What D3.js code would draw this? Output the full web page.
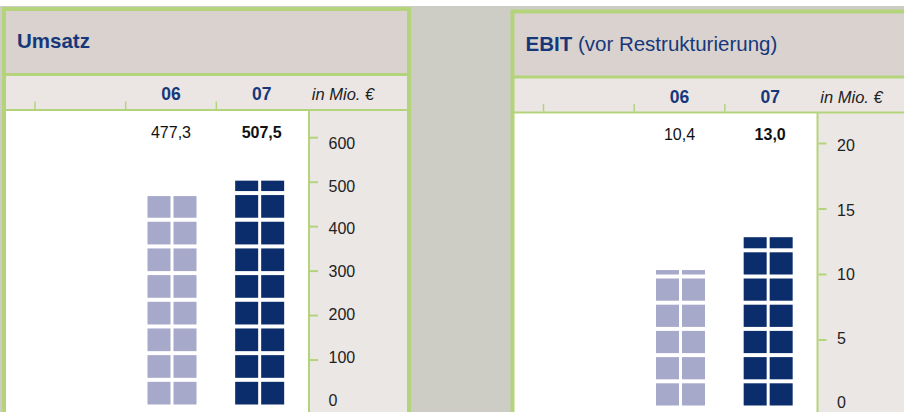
<!DOCTYPE html>
<html>
<head>
<meta charset="utf-8">
<script src="https://cdn.jsdelivr.net/npm/d3@7"></script>
<style>
  body { margin: 0; background: #fff; }
  svg { display: block; font-family: "Liberation Sans", Arial, sans-serif; }
</style>
</head>
<body>
<div class="canvas"></div>
<script>
// data
const slots = ["", "06", "07"];
const years = ["06", "07"];
const umsatz = [477.3, 507.5];
const ebit = [10.4, 13.0];
const umsatzTicks = [0, 100, 200, 300, 400, 500, 600];
const ebitTicks = [0, 5, 10, 15, 20];
const unitLabel = "in Mio. €";

const green = "#b4d47b";
const navy = "#16387a";
const barColors = ["#a6a9ca", "#0c2d6c"];
const fmt = (v) => d3.format(".1f")(v).replace(".", ",");

const dims = { width: 904, height: 412 };
const svg = d3
	.select(".canvas")
	.append("svg")
	.attr("width", dims.width)
	.attr("height", dims.height);

svg.append("rect").attr("width", dims.width).attr("height", dims.height).attr("fill", "#cdccc5");
svg.append("rect").attr("width", dims.width).attr("height", 6).attr("fill", "#fff");

const panels = [
	{ x: 2, y: 7, title: "Umsatz", sub: "", values: umsatz, ticks: umsatzTicks, max: 600, rowValue: 60, range: [397.5, 130.7] },
	{ x: 510.5, y: 9.5, title: "EBIT", sub: " (vor Restrukturierung)", values: ebit, ticks: ebitTicks, max: 20, rowValue: 2, range: [396, 134] },
];

panels.forEach((p) => {
	const g = svg.append("g").attr("transform", `translate(${p.x}, ${p.y})`);

	// frame
	g.append("rect").attr("width", 409).attr("height", 420).attr("fill", green);
	g.append("rect").attr("x", 4).attr("y", 4).attr("width", 401).attr("height", 62).attr("fill", "#d9d2cf");
	g.append("rect").attr("x", 4).attr("y", 69).attr("width", 401).attr("height", 33).attr("fill", "#ebe6e4");
	g.append("rect").attr("x", 4).attr("y", 104).attr("width", 302).attr("height", 320).attr("fill", "#fff");
	g.append("rect").attr("x", 308).attr("y", 104).attr("width", 97).attr("height", 320).attr("fill", "#ebe7e5");

	// title
	const t = g.append("text").attr("x", 15).attr("y", 41).attr("font-size", 20.5).attr("fill", navy);
	t.append("tspan").attr("font-weight", "bold").text(p.title);
	t.append("tspan").text(p.sub);

	// column band
	const x = d3.scaleBand().domain(slots).range([33, 305]);
	g.selectAll(".slotTick")
		.data(slots)
		.enter()
		.append("line")
		.attr("x1", (d) => x(d))
		.attr("x2", (d) => x(d))
		.attr("y1", 94.5)
		.attr("y2", 102)
		.attr("stroke", green)
		.attr("stroke-width", 1.5);
	g.selectAll(".year")
		.data(years)
		.enter()
		.append("text")
		.attr("x", (d) => x(d) + x.bandwidth() / 2)
		.attr("y", 93)
		.attr("text-anchor", "middle")
		.attr("font-size", 17.5)
		.attr("font-weight", "bold")
		.attr("fill", navy)
		.text((d) => d);
	g.append("text")
		.attr("x", 341)
		.attr("y", 93)
		.attr("text-anchor", "middle")
		.attr("font-size", 16.5)
		.attr("font-style", "italic")
		.attr("fill", "#222")
		.text(unitLabel);

	// scales
	const y = d3.scaleLinear().domain([0, p.max]).range(p.range);
	const yLabel = d3.scaleLinear().domain([0, p.max]).range([393, 136]);

	// axis
	g.selectAll(".tick")
		.data(p.ticks.filter((d) => d > 0))
		.enter()
		.append("line")
		.attr("x1", 308)
		.attr("x2", 316)
		.attr("y1", (d) => y(d))
		.attr("y2", (d) => y(d))
		.attr("stroke", green)
		.attr("stroke-width", 2);
	g.selectAll(".tickLabel")
		.data(p.ticks)
		.enter()
		.append("text")
		.attr("x", 326.5)
		.attr("y", (d) => yLabel(d))
		.attr("dy", "0.36em")
		.attr("font-size", 16)
		.attr("fill", "#222")
		.text((d) => d);

	// pictogram bars
	const gap = 4;
	const sq = 23;
	years.forEach((yr, i) => {
		const v = p.values[i];
		const cx = x(yr) + x.bandwidth() / 2 + (i === 0 ? 1 : -2);
		const rows = d3.range(Math.ceil(v / p.rowValue)).map((k) => {
			const start = k * p.rowValue;
			const frac = Math.min(1, (v - start) / p.rowValue);
			return { start, frac };
		});
		const cells = [];
		rows.forEach((r) => [0, 1].forEach((c) => cells.push({ ...r, c })));
		const cellH = (d) => d.frac * (y(d.start) - y(d.start + p.rowValue) - gap);
		g.selectAll(`.cell${i}`)
			.data(cells)
			.enter()
			.append("rect")
			.attr("x", (d) => (d.c === 0 ? cx - 1.5 - sq : cx + 1.5))
			.attr("width", sq)
			.attr("y", (d) => y(d.start) - cellH(d))
			.attr("height", cellH)
			.attr("fill", barColors[i]);
		g.append("text")
			.attr("x", x(yr) + x.bandwidth() / 2)
			.attr("y", 130.5)
			.attr("text-anchor", "middle")
			.attr("font-size", 16)
			.attr("font-weight", i === 1 ? "bold" : "normal")
			.attr("fill", "#111")
			.text(fmt(v));
	});
});
</script>
</body>
</html>
